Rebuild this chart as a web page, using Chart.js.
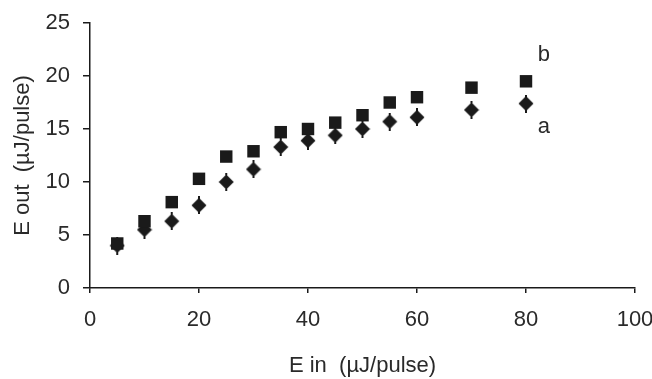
<!DOCTYPE html>
<html>
<head>
<meta charset="utf-8">
<script src="https://cdn.jsdelivr.net/npm/chart.js@4"></script>
<style>
  html, body { margin: 0; padding: 0; background: #fff; }
  #wrap { width: 652px; height: 379px; }
</style>
</head>
<body>
<div id="wrap"><canvas id="chart"></canvas></div>
<script>
// E in values (uJ/pulse)
var eIn = [5, 10, 15, 20, 25, 30, 35, 40, 45, 50, 55, 60, 70, 80];
// curve a (diamonds) and curve b (squares), E out (uJ/pulse)
var outA = [4.0, 5.5, 6.3, 7.8, 10.0, 11.2, 13.3, 13.9, 14.4, 15.0, 15.7, 16.1, 16.8, 17.4];
var outB = [4.2, 6.3, 8.1, 10.3, 12.4, 12.9, 14.7, 15.0, 15.6, 16.3, 17.5, 18.0, 18.9, 19.5];
// curve labels placed next to the last points
var curveLabels = [
    { text: 'b', x: 83.3, y: 22.0 },
    { text: 'a', x: 83.3, y: 15.2 }
];

var ink = '#1a1a1a';
var textColor = '#2a2a2a';
var fontFamily = '"Liberation Sans", Arial, sans-serif';
var fontSize = 22;

function toPoints(xs, ys) {
    return xs.map((x, i) => ({ x: x, y: ys[i] }));
}

// Diamond marker with tiny stubs top and bottom, like the original
function diamondMarker() {
    let c = document.createElement('canvas');
    c.width = 16;
    c.height = 18;
    let g = c.getContext('2d');
    g.fillStyle = ink;
    g.beginPath();
    g.moveTo(8, 1.5);
    g.lineTo(15.5, 9);
    g.lineTo(8, 16.5);
    g.lineTo(0.5, 9);
    g.closePath();
    g.fill();
    g.fillRect(7, 0, 2, 3);
    g.fillRect(7, 15, 2, 3);
    return c;
}

// Draw the "a" / "b" text beside the curves
var curveLabelPlugin = {
    id: 'curveLabels',
    afterDatasetsDraw(chart) {
        let ctx = chart.ctx;
        let xs = chart.scales.x;
        let ys = chart.scales.y;
        ctx.save();
        ctx.fillStyle = textColor;
        ctx.font = fontSize + 'px ' + fontFamily;
        ctx.textAlign = 'center';
        ctx.textBaseline = 'middle';
        curveLabels.forEach(l => {
            ctx.fillText(l.text, xs.getPixelForValue(l.x), ys.getPixelForValue(l.y));
        });
        ctx.restore();
    }
};

new Chart(document.getElementById('chart'), {
    type: 'scatter',
    data: {
        datasets: [
            {
                label: 'b',
                data: toPoints(eIn, outB),
                pointStyle: 'rect',
                pointRadius: 8.8,
                pointHoverRadius: 8.8,
                backgroundColor: ink,
                borderColor: ink,
                borderWidth: 0
            },
            {
                label: 'a',
                data: toPoints(eIn, outA),
                pointStyle: diamondMarker(),
                pointRadius: 8,
                pointHoverRadius: 8,
                backgroundColor: ink,
                borderColor: ink,
                borderWidth: 0
            }
        ]
    },
    options: {
        responsive: true,
        maintainAspectRatio: false,
        animation: false,
        layout: { padding: { top: 23, right: 0, bottom: 0, left: 0 } },
        plugins: {
            legend: { display: false },
            tooltip: { enabled: false }
        },
        scales: {
            x: {
                type: 'linear',
                min: 0,
                max: 100,
                ticks: {
                    stepSize: 20,
                    color: textColor,
                    padding: 14,
                    maxRotation: 0,
                    font: { family: fontFamily, size: fontSize }
                },
                grid: {
                    drawOnChartArea: false,
                    drawTicks: true,
                    tickLength: 5,
                    color: ink,
                    lineWidth: 1.5
                },
                border: { color: ink, width: 1.5 },
                title: {
                    display: true,
                    text: 'E in  (µJ/pulse)',
                    color: textColor,
                    font: { family: fontFamily, size: fontSize },
                    padding: { top: 0, bottom: 0 }
                },
                afterFit(scale) {
                    scale.height = 91;
                    scale.paddingRight = 17;
                    scale.paddingLeft = 0;
                }
            },
            y: {
                min: 0,
                max: 25,
                ticks: {
                    stepSize: 5,
                    color: textColor,
                    padding: 13,
                    font: { family: fontFamily, size: fontSize }
                },
                grid: {
                    drawOnChartArea: false,
                    drawTicks: true,
                    tickLength: 7,
                    color: ink,
                    lineWidth: 1.5
                },
                border: { color: ink, width: 1.5 },
                title: {
                    display: true,
                    text: 'E out  (µJ/pulse)',
                    color: textColor,
                    font: { family: fontFamily, size: fontSize },
                    padding: { top: 10, bottom: 0 }
                },
                afterFit(scale) {
                    scale.width = 90;
                    scale.paddingTop = 0;
                    scale.paddingBottom = 0;
                }
            }
        }
    },
    plugins: [curveLabelPlugin]
});
</script>
</body>
</html>
